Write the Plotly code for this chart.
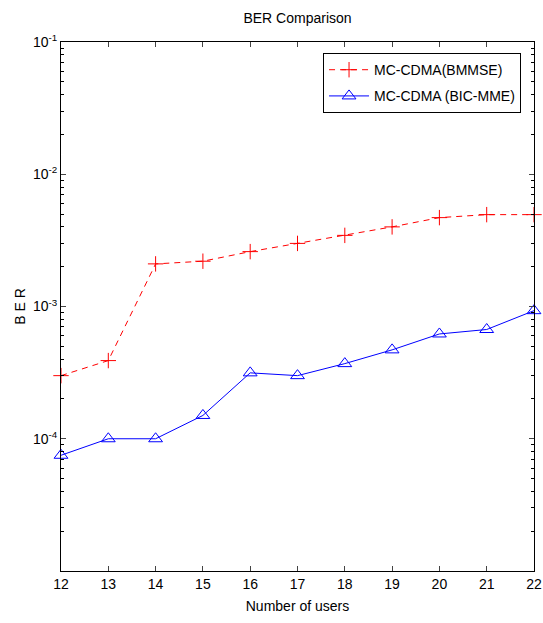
import plotly.graph_objects as go

users = [12, 13, 14, 15, 16, 17, 18, 19, 20, 21, 22]
ber_bmmse = [3.0e-4, 3.9e-4, 2.1e-3, 2.2e-3, 2.6e-3, 3.0e-3, 3.45e-3, 4.0e-3, 4.7e-3, 4.95e-3, 4.95e-3]
ber_bicmme = [7.5e-5, 1.0e-4, 1.0e-4, 1.5e-4, 3.15e-4, 3.0e-4, 3.7e-4, 4.7e-4, 6.2e-4, 6.7e-4, 9.3e-4]
names = ["MC-CDMA(BMMSE)", "MC-CDMA (BIC-MME)"]
y_tickvals = [1e-4, 1e-3, 1e-2, 1e-1]
y_ticktext = ["10<sup>-4</sup>", "10<sup>-3</sup>", "10<sup>-2</sup>", "10<sup>-1</sup>"]

fig = go.Figure()
fig.add_trace(go.Scatter(
    x=users, y=ber_bmmse, name=names[0], mode="lines+markers", legendgroup="g1",
    line=dict(color="red", width=1, dash="6px,5px"),
    marker=dict(symbol="cross-thin-open", size=11, color="red", line=dict(color="red", width=1)),
    cliponaxis=False,
))
fig.add_trace(go.Scatter(
    x=users, y=ber_bicmme, name=names[1], mode="lines+markers", legendgroup="g2",
    line=dict(color="blue", width=1),
    marker=dict(symbol="triangle-up-open", size=12, color="blue", line=dict(color="blue", width=1)),
    cliponaxis=False,
))

font = "Liberation Sans, Arial, sans-serif"
W, H = 543, 620
L, R, T, B = 61, 9, 42, 49
fig.update_layout(
    width=W, height=H,
    margin=dict(l=L, r=R, t=T, b=B, autoexpand=False),
    paper_bgcolor="white", plot_bgcolor="white",
    font=dict(family=font, size=14, color="black"),
    title=dict(text="BER Comparison", x=(L + (W - R)) / 2 / W, xanchor="center",
               y=1 - 18 / H, yanchor="middle", font=dict(size=14)),
    legend=dict(x=0.554, y=0.979, xanchor="left", yanchor="top",
                bordercolor="black", borderwidth=1, bgcolor="white",
                font=dict(size=14), tracegroupgap=5, itemwidth=40),
    showlegend=True,
)
fig.update_xaxes(
    range=[12, 22], tickmode="array", tickvals=users, ticktext=[str(u) for u in users],
    ticks="inside", ticklen=5, mirror="ticks", showline=True, linecolor="black", linewidth=1,
    showgrid=False, zeroline=False, automargin=False, ticklabeloverflow="allow",
    title=dict(text="Number of users", font=dict(size=14), standoff=10),
    tickfont=dict(size=14),
)
fig.update_yaxes(
    type="log", range=[-5, -1], tickmode="array", tickvals=y_tickvals, ticktext=y_ticktext,
    ticks="inside", ticklen=5, mirror="ticks", automargin=False,
    showline=True, linecolor="black", linewidth=1, showgrid=False, zeroline=False,
    minor=dict(ticks="inside", ticklen=3, dtick="D1", tickcolor="black", showgrid=False),
    title=dict(text="B E R", font=dict(size=14), standoff=4),
    tickfont=dict(size=14),
)

fig.write_html(
    "out.html",
    config={"displayModeBar": False},
    post_script="document.body.style.margin='0';document.body.style.overflow='hidden';",
)
